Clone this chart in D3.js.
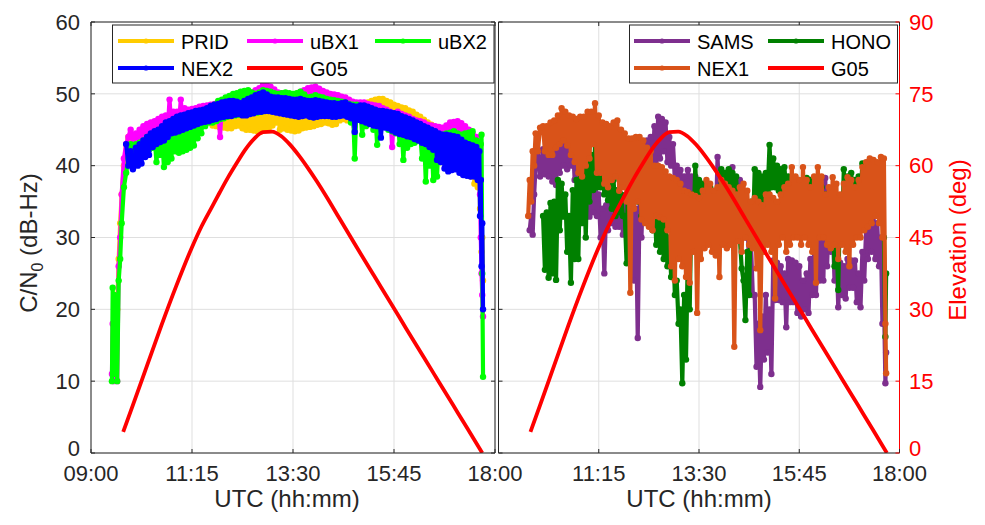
<!DOCTYPE html>
<html><head><meta charset="utf-8">
<script src="https://cdn.jsdelivr.net/npm/d3@7"></script>
<style>
body{margin:0;background:#fff}
text{font-family:"Liberation Sans",Arial,Helvetica,sans-serif}
</style>
</head><body>
<svg id="c" width="985" height="525"></svg>
<script>
// ---------------- DATA ----------------
// time in minutes after 00:00 UTC
const xTickMinutes = [540, 675, 810, 945, 1080];
const xTickLabels = ["09:00", "11:15", "13:30", "15:45", "18:00"];
const cnTicks = [0, 10, 20, 30, 40, 50, 60];
const elevTicks = [0, 15, 30, 45, 60, 75, 90];

// Left panel sample clock (start samples, 2.5-min samples 10:00-17:32, end samples)
const leftTimes = [568,569,570,571,572,573,575,577,579,581,584,587,590,593,596]
  .concat(d3.range(600, 1054, 2.5), [1055,1057,1059,1060,1061,1062,1063,1064]);

const PRID = [null,null,null,null,null,null,20,27,32,36,40,43,44,43,44,
 43,41,43.5,41.5,44,42.3,44.5,42.5,45,43.5,45.3,44,45.5,44.2,45.8,44.5,46,44.8,46.2,45,
 46.5,45.3,46.8,45.5,47,45.8,47.2,46,47.4,45.8,47.5,45.8,47.5,45.9,47.6,46,47.8,46.1,47.7,46.3,
 47.5,45.6,47.8,45.5,48,45.3,47.8,45.3,47.6,45.2,47.8,45.2,48,45.5,47.9,45.6,47.8,45.2,47.7,45,
 47.7,45,48,44.9,48.2,44.8,47.9,44.8,47.5,45.1,47.2,45.2,47,45.6,46.8,46,47.2,45,47.5,45.2,
 47,45,46.9,44.9,46.8,44.8,47,44.9,47.2,45.2,47.8,45.3,48.5,45.4,48.6,45.5,48.8,45.7,48.7,45.8,
 48.6,46,48.5,45.9,48.5,45.7,48.2,45.8,48,46.3,48.1,46.5,48.3,46.3,48.4,46.2,48.5,46.4,48.3,46.6,
 48,46,48.4,46.2,48.8,46.4,49,46.5,49.2,46.7,49.3,46.8,49.3,46.5,49,46.3,48.8,46.1,48.5,46,
 48.3,45.6,48.1,45.5,48,45.3,47.7,45.2,47.5,44.8,47.1,44.6,46.8,44.2,46.4,44,46,43.7,45.7,43.5,
 45.3,41.7,45,41.5,44.8,40.8,44.6,40.5,44.5,40.3,44.4,40.2,44.3,39.8,44,39.5,43.8,38.8,43.4,38.5,
 43,37.5,
 41,37,40,34,38,28,30,24];

const uBX1 = [11,18,10,20,11,19,10,26,30,36,41,43,44,45,43,
 44.5,42,45,42.3,45.5,42.8,45.8,43,46,43.6,46.2,44,46.5,44.3,46.8,44.5,47,45,49.2,45.3,
 47.5,45.8,47.5,45.8,49.2,46,48,46,47.8,46.2,47.9,46.3,48,46.4,48.2,46.5,48.3,46.3,48.4,46.2,
 48.5,46.6,48.6,46.7,48.2,44,48.6,47.2,49,47.1,49.1,47,49.3,47.3,49.4,47.4,49.5,47.5,49.7,47.5,
 50,47.7,50.2,47.8,50.5,47.9,50.8,48,51.3,48.1,51.2,48.2,51,48.1,50.6,48,50.2,47.9,50.1,47.8,
 50,47.6,49.9,47.5,49.8,47.3,50,47.4,50.3,47.5,50.5,47.5,50.8,47.6,50.9,47.7,51,47.8,50.7,47.7,
 50.4,47.5,50.2,47.4,50,47.3,49.9,47.3,49.8,47.4,49.6,47.3,49.5,47.2,49.2,47,48.9,45.5,48.8,47,
 48.8,47,48.8,46.8,48.6,46.6,48.5,46.2,48.4,45,48.3,45.6,48,45.8,47.8,45.5,47.5,42.6,47.2,45,
 47.5,45,47.2,44.8,47,44.6,46.8,44.5,46.5,44.3,46.3,44.5,46.2,45,46,44.6,45.7,44,45.6,43.5,
 45.5,42.2,45.4,42,45.3,41.2,45.6,41,46,41.3,46.1,41.5,46.2,41,45.9,40.5,45.5,40.3,45,40,
 44.5,40,
 44,39,42,36,30,25,22,19];

const uBX2 = [10,23,11,22,12,21,10,24,27,32,37,39,41,43,40,
 43,41.5,43.2,41.8,43.5,42,44,42.2,43.8,42.5,44,40.5,44,41.5,44.2,39.8,44.5,40.5,44.6,41,
 45,42,45.2,41.8,45.5,42,45.6,42.2,45.8,42.5,46,42.8,46.5,43.8,47,44.5,47.5,45.5,47.8,46,
 48,46,48.5,46.2,49,46.5,49.2,46.6,49.5,46.8,49.7,47,50,47,50.1,47.1,50.3,47.3,50.4,47.5,
 50.5,47.5,50.2,47.5,50,47.4,50.2,47.5,50.5,47.7,50.4,47.8,50.3,47.9,50.1,48,50,47.7,50.1,47.5,
 50.2,47.5,50.1,47.3,50,47,50.1,47.4,50.3,47.8,49.9,47.6,49.5,47.5,49.6,47.3,49.8,47,49.6,47.1,
 49.5,47.2,49.3,47.1,49.2,47,49.1,47.1,49,47.3,48.9,47.2,48.8,47,48.6,46,48.5,41,48.5,46.5,
 48,44.3,48,45.5,47.8,46.5,47.5,45,47.2,42.9,47,45.5,47,45.8,47.2,45,47,44.8,46.8,44.5,
 46.5,43,46,40.8,45.5,42.5,45.4,43,45.3,43.2,45,43.5,44.5,41,44.5,37.8,44.5,40,44.3,38,
 44,38.5,44.2,40.5,44.3,41,44.5,41.3,44.6,41.5,44.8,42,44.5,43,44.3,41.2,44.5,41.8,44.6,42.5,
 44.8,41,
 43.5,40,41,38,43,44.3,25,10.6];

const NEX2 = [null,null,null,null,null,null,null,null,null,null,null,43,40,42,39.5,
 42.5,40,43,40.3,43.5,41.2,44,41.5,44.5,42.6,44.8,43,45,43.3,45.5,43.5,46,44,46.2,44.5,
 46.5,44.6,46.8,44.8,47,45,47.1,45.2,47.3,45.4,47.4,45.6,47.6,45.8,47.7,46,47.8,46.1,48,46.2,
 48.3,46.4,48.5,46.5,48.6,46.7,48.8,46.8,48.9,46.9,49,46.9,49,47.1,48.9,47.2,48.7,47,49,47,
 49.3,47.2,49.5,47.3,49.8,47.5,50,47.5,50.2,47.6,49.9,47.6,49.6,47.5,49.5,47.4,49.5,47.3,49.4,47.2,
 49.4,47.1,49.3,47,49.2,46.9,49.2,46.8,49.3,46.9,49.1,47,49,46.8,49,46.7,49.1,46.8,49,46.9,
 48.9,46.9,48.8,46.9,48.7,46.8,48.7,46.8,48.6,46.9,48.7,47,48.8,46.8,48.5,46.6,48.3,44.7,48.2,46.4,
 48.4,46.2,48.4,46,48.2,45.8,48,45.6,47.8,45.5,47.6,43.9,47.6,45.3,47.5,45.2,47.4,44.9,47.3,44.6,
 47.2,44.4,46.9,44.3,46.7,44.1,46.5,44,46.3,43.7,46,43.5,45.8,43.2,45.5,43,45.3,42.6,45,42.2,
 44.8,40.8,44.5,40.5,44.3,39.6,44.3,39.2,44.2,39.4,44.1,39.5,44,39,43.6,38.7,43.2,38.6,43,38.5,
 42.8,38.5,
 42.6,38,42,33,38,26,32,20];

// Right panel sample clock
const rightTimes = [580,582,584,586,588,590,593,596]
  .concat(d3.range(600, 1054, 2.5), [1055,1057,1059,1061,1062]);

const SAMS = [null,31,33,30.4,36,40,42,38.5,
 42.3,38.8,42.2,38.5,42,37.8,42.5,37.3,43,39,43.5,40,44,39.5,45.4,40,44,38,41.5,37,
 37,35,37,34,36.8,32.9,36.8,33.5,36.5,33,36,30,34,25,34.5,31,35.5,32,35.5,31.5,
 36.5,31.5,36,30.4,35.5,31,35,31,34.5,24,34,16,35,30,38,33,43.5,37,44,39,
 45.5,39.5,46.8,41,46.5,42,46,40.5,44,40,43,38,40,37,39.4,36,38.5,35.2,39.4,35.5,
 38.5,36,38.5,35.5,37.5,35,37,34,36.5,32,36,33,36,31.8,41.2,34.5,39,34,37.5,33.5,
 37,33,39.8,34,38,33,38,32,34,30,33,26,29,22,22,12,18,9.2,19,13,
 22,14,20,11,26.8,21.3,26.5,21.3,26,21,25,17.5,27,21,26.8,21,26.5,19.5,26,19,
 24,20,25,19.5,27,22,28,22,30,24,31.8,24,38.3,26,34,28,31.8,24,29,20.3,
 26.5,22,26,21.5,27,23,26.8,23,26.8,21,25,20.3,28,24,31,27,34.8,28,33,27,
 32,26,
 30,18,22,9.7,14];

const HONO = [null,null,null,null,null,null,null,null,
 33,25.5,33.5,24.4,34.8,25,35,24.1,38,31,37.5,32.9,36,28,33,23.7,36.6,27,38,27,
 39.5,32,40,30,41.2,35,41.5,36.6,42.9,37,42,37,40.3,36,40,35.2,39.5,34,38,33,
 36.6,33.5,36,33,33,26.4,43.5,35,42,36,40,35,38.5,33,38,33,36.5,31.8,36,31,
 35,29,35,28,33.5,27,33,26,30,24.5,30,22,24,18,20,9.7,22,13,28,20,
 36,31,40,34,38,33,37.5,33,37,32,37,32.5,36,33,36.5,33,39.5,35,39,36.5,
 39.5,37,39,36.5,38.5,33,30,25.7,24,18.5,28,22,35,30,39.5,35,39,34.5,38.5,35,
 39,36.5,42.9,37,41,37,40,36.5,39.5,36.5,39.8,36.5,38.5,36.5,38.3,35.5,37.5,35,37,35,
 37,35,38.3,35,38,35.5,37.5,34,37,33,37,33,36,32,36,30,33,26,30,22.7,
 35,30,39.5,33,38.5,35.2,39,35.5,38,36,38.5,35.5,40.3,36,39,35.5,40.6,35,39.5,35,
 39.5,35,
 40,34.6,30,16.2,25];

const NEX1 = [33,38,35,42,40,44.5,42,45.3,
 45.5,42,45.5,41.5,46,41.5,46.3,42.5,47,43,48,43.5,47.5,42.8,47,41.5,46.8,40.5,46.5,39,
 46.8,38.5,46.8,40,47.5,41,47.5,43,48.7,39,47,39,46,37.5,45.8,37,45.5,38,46,38.5,
 46.3,36.5,45,37,44.5,35,43.8,22.3,43.8,34,44,35,44,32.5,43.5,32,42.5,31.5,42,31,
 40,33,40,32.8,39.8,32.5,39.2,31,38.5,26,38.3,24,38,27,37.5,26,36.5,24.5,36.3,23.7,
 36,28,35.8,19.5,35.5,27,36.5,28.5,38,29,37.5,28,36.5,27.5,37,24.5,38,29,37.5,28.5,
 37,29,36.5,14.8,36,29.5,37,28,37.5,30,36.5,29,35,28.5,35.5,25.7,35,17.1,34.5,28,
 36,29,36,28,35.5,21.5,35,29,36,30,37,28,37.5,29,39.8,30,38.5,30,38,29,
 39.8,30,38,29,37,28,38.5,23.7,39.8,30,38.5,30,36,29,37,28.5,38.4,29,37.5,27,
 36,29,37.5,28,38.4,26,38,29,37,30,38,30,39.8,31,40.5,31.5,41,32,40.8,33,
 40.5,32,
 41.2,30,41,18,11.1];

// G05 satellite elevation (deg)
const g05Times = [583,596,615,634,654,674,688,701,712,723,735,746,758,770,782,794,806,818,830,842,856,872,895,918,940,962,984,1004,1024,1044,1063];
const g05Elev  = [4.4,10,18.3,26.6,34.9,42.6,47.4,51.2,54.4,57.5,60.6,63.3,65.6,67.0,67.1,66.2,64.4,62.1,59.5,56.7,53.2,49.0,43.0,37.1,31.5,25.8,20.2,15.1,10.0,4.9,0];

const leftSeries = [
  {name:"PRID", vals:PRID, color:"#FFCC00"},
  {name:"uBX1", vals:uBX1, color:"#FF00FF"},
  {name:"uBX2", vals:uBX2, color:"#00FF00"},
  {name:"NEX2", vals:NEX2, color:"#0000FF"}
];
const rightSeries = [
  {name:"SAMS", vals:SAMS, color:"#7E2F8E"},
  {name:"HONO", vals:HONO, color:"#008000"},
  {name:"NEX1", vals:NEX1, color:"#D95319"}
];
const G05_COLOR = "#FF0000";

// ---------------- LAYOUT ----------------
const svg = d3.select("#c");
const yTop = 22, yBot = 453;
const AX = "#262626", GRID = "#dfdfdf";
const yC = d3.scaleLinear().domain([0, 60]).range([yBot, yTop]);
const yE = d3.scaleLinear().domain([0, 90]).range([yBot, yTop]);

const panels = [
  {x0: 91, x1: 495, times: leftTimes, series: leftSeries, id: "L"},
  {x0: 498.5, x1: 899.5, times: rightTimes, series: rightSeries, id: "R"}
];

panels.forEach(p => {
  p.x = d3.scaleLinear().domain([540, 1080]).range([p.x0, p.x1]);
  const g = svg.append("g");
  svg.append("clipPath").attr("id", "clip" + p.id)
    .append("rect").attr("x", p.x0).attr("y", yTop).attr("width", p.x1 - p.x0).attr("height", yBot - yTop);
  // grid
  g.selectAll(".gv").data(xTickMinutes).enter().append("line")
    .attr("x1", d => p.x(d)).attr("x2", d => p.x(d)).attr("y1", yTop).attr("y2", yBot)
    .attr("stroke", GRID).attr("stroke-width", 1);
  g.selectAll(".gh").data(cnTicks).enter().append("line")
    .attr("x1", p.x0).attr("x2", p.x1).attr("y1", d => yC(d)).attr("y2", d => yC(d))
    .attr("stroke", GRID).attr("stroke-width", 1);

  const dg = g.append("g").attr("clip-path", "url(#clip" + p.id + ")");
  p.series.forEach(s => {
    const pts = p.times.map((t, i) => ({t: t, v: s.vals[i] === undefined ? null : s.vals[i]}));
    const line = d3.line().defined(d => d.v != null).x(d => p.x(d.t)).y(d => yC(d.v));
    dg.append("path").attr("d", line(pts)).attr("fill", "none")
      .attr("stroke", s.color).attr("stroke-width", 4.2).attr("stroke-linejoin", "round");
    dg.selectAll(null).data(pts.filter(d => d.v != null)).enter().append("circle")
      .attr("cx", d => p.x(d.t)).attr("cy", d => yC(d.v)).attr("r", 3.2).attr("fill", s.color);
  });
  const gpts = g05Times.map((t, i) => ({t: t, v: g05Elev[i]}));
  dg.append("path")
    .attr("d", d3.line().curve(d3.curveMonotoneX).x(d => p.x(d.t)).y(d => yE(d.v))(gpts))
    .attr("fill", "none").attr("stroke", G05_COLOR).attr("stroke-width", 3.8);

  // box
  const rightColor = p.id === "R" ? "#FF0000" : AX;
  g.append("line").attr("x1", p.x0).attr("x2", p.x1).attr("y1", yTop).attr("y2", yTop).attr("stroke", AX);
  g.append("line").attr("x1", p.x0).attr("x2", p.x1).attr("y1", yBot).attr("y2", yBot).attr("stroke", AX);
  g.append("line").attr("x1", p.x0).attr("x2", p.x0).attr("y1", yTop).attr("y2", yBot).attr("stroke", AX);
  g.append("line").attr("x1", p.x1).attr("x2", p.x1).attr("y1", yTop).attr("y2", yBot).attr("stroke", rightColor);
  // ticks
  const tl = 4;
  xTickMinutes.forEach(m => {
    g.append("line").attr("x1", p.x(m)).attr("x2", p.x(m)).attr("y1", yBot).attr("y2", yBot - tl).attr("stroke", AX);
    g.append("line").attr("x1", p.x(m)).attr("x2", p.x(m)).attr("y1", yTop).attr("y2", yTop + tl).attr("stroke", AX);
  });
  cnTicks.forEach(v => {
    g.append("line").attr("x1", p.x0).attr("x2", p.x0 + tl).attr("y1", yC(v)).attr("y2", yC(v)).attr("stroke", AX);
    if (p.id === "L")
      g.append("line").attr("x1", p.x1 - tl).attr("x2", p.x1).attr("y1", yC(v)).attr("y2", yC(v)).attr("stroke", AX);
  });
  if (p.id === "R") {
    elevTicks.forEach(v => {
      g.append("line").attr("x1", p.x1 - tl).attr("x2", p.x1).attr("y1", yE(v)).attr("y2", yE(v)).attr("stroke", "#FF0000");
      g.append("text").attr("x", p.x1 + 9.5).attr("y", yE(v) - (v === 0 ? 5 : 0)).attr("dy", "0.35em")
        .attr("font-size", 22).attr("fill", "#FF0000").text(v);
    });
  } else {
    cnTicks.forEach(v => {
      g.append("text").attr("x", 80).attr("y", yC(v) - (v === 0 ? 5 : 0)).attr("dy", "0.35em").attr("text-anchor", "end")
        .attr("font-size", 22).attr("fill", AX).text(v);
    });
  }
  // x tick labels
  xTickMinutes.forEach((m, i) => {
    if (p.id === "R" && i === 0) return;
    g.append("text").attr("x", p.x(m)).attr("y", 481).attr("text-anchor", "middle")
      .attr("font-size", 22).attr("fill", AX).text(xTickLabels[i]);
  });
});

// axis titles
svg.append("text").attr("x", 287).attr("y", 507).attr("text-anchor", "middle")
  .attr("font-size", 24).attr("fill", AX).text("UTC (hh:mm)");
svg.append("text").attr("x", 699).attr("y", 507).attr("text-anchor", "middle")
  .attr("font-size", 24).attr("fill", AX).text("UTC (hh:mm)");
const yl = svg.append("text").attr("transform", "translate(37,243) rotate(-90)")
  .attr("text-anchor", "middle").attr("font-size", 24).attr("fill", AX);
yl.append("tspan").text("C/N");
yl.append("tspan").attr("font-size", 16).attr("dy", 6).text("0");
yl.append("tspan").attr("dy", -6).text(" (dB-Hz)");
svg.append("text").attr("transform", "translate(966,240) rotate(-90)")
  .attr("text-anchor", "middle").attr("font-size", 24).attr("fill", "#FF0000").text("Elevation (deg)");

// legends
function legend(box, items) {
  const g = svg.append("g");
  g.append("rect").attr("x", box.x).attr("y", box.y).attr("width", box.w).attr("height", box.h)
    .attr("fill", "#fff").attr("stroke", AX).attr("stroke-width", 1);
  items.forEach(it => {
    g.append("line").attr("x1", it.lx).attr("x2", it.lx + 56).attr("y1", it.ly).attr("y2", it.ly)
      .attr("stroke", it.color).attr("stroke-width", 4);
    if (it.marker)
      g.append("circle").attr("cx", it.lx + 28).attr("cy", it.ly).attr("r", 2.6).attr("fill", it.color);
    g.append("text").attr("x", it.lx + 63).attr("y", it.ly + 8.3).attr("font-size", 20)
      .attr("fill", "#000").text(it.name);
  });
}
legend({x: 112.5, y: 25, w: 381.5, h: 58}, [
  {name: "PRID", color: leftSeries[0].color, lx: 118, ly: 41, marker: true},
  {name: "uBX1", color: leftSeries[1].color, lx: 247, ly: 41, marker: true},
  {name: "uBX2", color: leftSeries[2].color, lx: 375, ly: 41, marker: true},
  {name: "NEX2", color: leftSeries[3].color, lx: 118, ly: 68, marker: true},
  {name: "G05", color: G05_COLOR, lx: 247, ly: 68, marker: false}
]);
legend({x: 629.5, y: 25, w: 268, h: 58}, [
  {name: "SAMS", color: rightSeries[0].color, lx: 634, ly: 41, marker: true},
  {name: "HONO", color: rightSeries[1].color, lx: 768, ly: 41, marker: true},
  {name: "NEX1", color: rightSeries[2].color, lx: 634, ly: 68, marker: true},
  {name: "G05", color: G05_COLOR, lx: 768, ly: 68, marker: false}
]);
</script>
</body></html>
